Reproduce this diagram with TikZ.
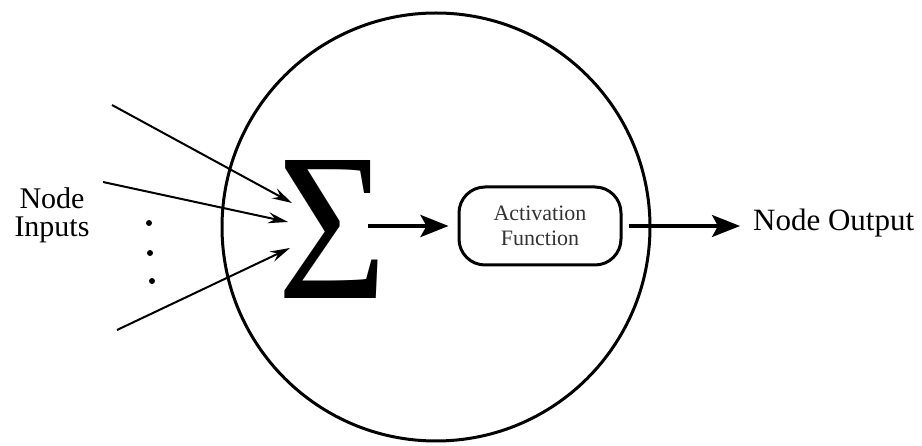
\documentclass[tikz,border=0pt]{standalone}
\usepackage{fontspec}
\usepackage{graphicx}
\setmainfont{Liberation Serif}
\usetikzlibrary{arrows.meta}
\tikzset{
  inarrow/.style={line width=2pt, -{Stealth[length=20pt,width=11pt,inset=7pt]}},
  bigarrow/.style={line width=3.8pt, -{Stealth[length=28pt,width=22pt,inset=6pt]}},
  cellstyle/.style={draw, circle, line width=3pt, minimum size=428pt, inner sep=0},
  actbox/.style={draw, line width=3pt, rounded corners=26pt, minimum width=162pt,
    minimum height=78pt, align=center, font=\fontsize{22}{25}\selectfont, text=black!80},
  label/.style={align=center, font=\fontsize{30}{28}\selectfont, inner sep=0},
  dotmark/.style={fill=black}
}
\begin{document}
\begin{tikzpicture}[x=1pt,y=-1pt]
\useasboundingbox (0,0) rectangle (922,446);
\node[cellstyle] (cell) at (436,227) {};
\node[inner sep=0] (sig) at (332,229) {\resizebox{110pt}{138pt}{Σ}};
\node[actbox] (box) at (540,226) {Activation\\Function};
\node[label] (inp) at (52,215) {Node\\Inputs};
\node[label, font=\fontsize{31}{31}\selectfont, anchor=west] (out) at (753,223) {Node Output};
\coordinate (a1) at (112,105);
\coordinate (t1) at (292,203);
\coordinate (a2) at (103,182);
\coordinate (t2) at (288,222);
\coordinate (a3) at (117,330);
\coordinate (t3) at (290,248);
\coordinate (s1) at (368,226);
\draw[inarrow] (a1) -- (t1);
\draw[inarrow] (a2) -- (t2);
\draw[inarrow] (a3) -- (t3);
\fill[dotmark] (149,223) circle (3pt);
\fill[dotmark] (150,253) circle (3pt);
\fill[dotmark] (152,281) circle (3pt);
\draw[bigarrow, shorten >=9pt] (s1) -- (box.west);
\draw[bigarrow, line width=3.2pt, shorten <=6pt, shorten >=13pt] (box.east) -- (box.east -| out.west);
\end{tikzpicture}
\end{document}
